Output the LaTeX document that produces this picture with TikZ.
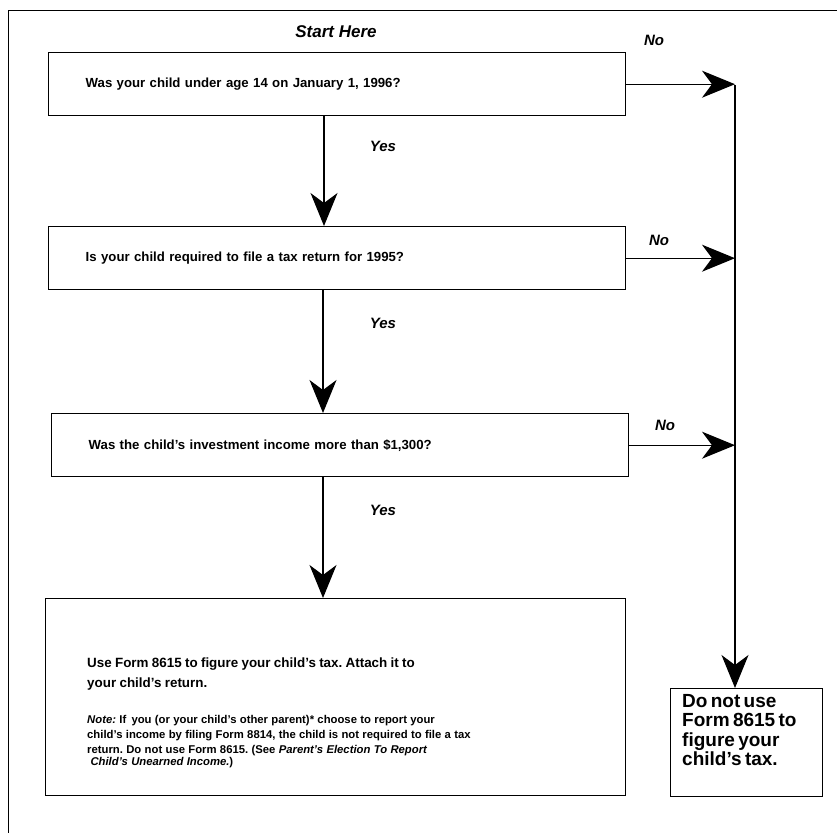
\documentclass[tikz,border=0pt]{standalone}
\usepackage{fontspec}
\setmainfont{Liberation Sans}
\usetikzlibrary{arrows.meta}

\tikzset{
	qbox/.style={draw, line width=1.4pt, anchor=north west, inner xsep=37pt, inner ysep=0pt,
		minimum height=63pt, text width=503pt, align=left, font=\fontsize{13.2}{16}\selectfont\bfseries},
	endbox/.style={draw, line width=1.4pt, anchor=north west, inner sep=0pt},
	answer/.style={font=\fontsize{15}{17}\selectfont\bfseries\itshape},
	flow/.style={line width=1.2pt, -{Stealth[length=33pt, width=27pt, inset=10pt]}},
}

\begin{document}
\frenchspacing
\begin{tikzpicture}[x=1pt, y=-1pt]
	\useasboundingbox (0,0) rectangle (837,833);
	\draw[line width=1pt] (837,10) -- (8,10) -- (8,833);% frame

	%	Questions
	\node[answer, font=\fontsize{17}{19}\selectfont\bfseries\itshape] (start) at (336,32) {Start Here};
	\node[qbox] (age) at (48,52) {Was your child under age 14 on January 1, 1996?};
	\node[qbox] (file) at (48,226) {Is your child required to file a tax return for 1995?};
	\node[qbox] (income) at (51,413) {Was the child's investment income more than \$1,300?};

	%	Yes: use the form
	\node[endbox, minimum width=580pt, minimum height=197pt] (use) at (45,598) {};
	\node[anchor=north west, inner sep=0pt, text width=530pt, align=left] (usetext) at (87,658) {%
		\fontsize{13.4}{20}\selectfont\bfseries Use Form 8615 to figure your child's tax. Attach it to\\
		your child's return.\par\vspace{21pt}
		\fontsize{11.3}{15}\selectfont{\itshape Note:} If\, you (or your child's other parent)* choose to report your\\
		child's income by filing Form 8814, the child is not required to file a tax\\
		return. Do not use Form 8615. (See {\itshape Parent's Election To Report}\\
		\ {\itshape Child's Unearned Income.})};

	%	No: do not use the form
	\node[endbox, minimum width=152pt, minimum height=108pt] (nouse) at (670,688) {};
	\node[anchor=north west, inner sep=0pt, text width=145pt, align=left] (nousetext) at (682,694) {%
		\fontsize{19}{19.5}\selectfont\bfseries Do not use\\ Form 8615 to\\ figure your\\ child's tax.};

	%	Trunk on the right
	\coordinate (trunk) at (735,85);
	\draw[flow] (trunk) -- (trunk |- nouse.north);

	%	Yes arrows
	\draw[flow] (age.south -| 324,0) -- (file.north -| 324,0);
	\draw[flow] (file.south -| 323,0) -- (income.north -| 323,0);
	\draw[flow] (income.south -| 323,0) -- (use.north -| 323,0);
	\node[answer] (yes1) at (383,146) {Yes};
	\node[answer] (yes2) at (383,323) {Yes};
	\node[answer] (yes3) at (383,510) {Yes};

	%	No arrows
	\draw[flow] (age.east) -- (age.east -| trunk);
	\draw[flow] (file.east) -- (file.east -| trunk);
	\draw[flow] (income.east) -- (income.east -| trunk);
	\node[answer] (no1) at (654,40) {No};
	\node[answer] (no2) at (659,240) {No};
	\node[answer] (no3) at (665,425) {No};
\end{tikzpicture}
\end{document}
